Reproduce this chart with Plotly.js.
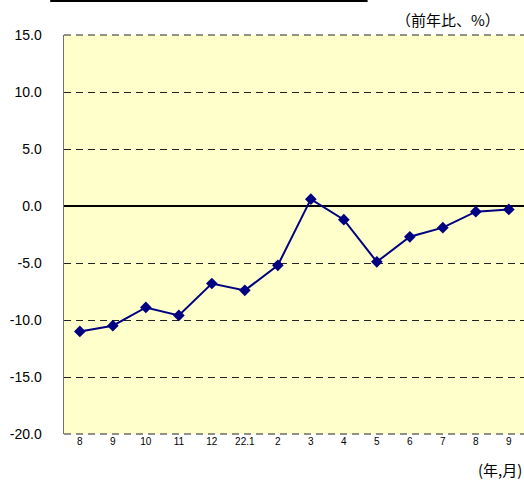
<!DOCTYPE html>
<html><head><meta charset="utf-8">
<script src="https://cdn.plot.ly/plotly-3.0.1.min.js"></script>
<style>html,body{margin:0;padding:0;background:#fff;}</style>
</head><body>
<div id="chart" style="width:524px;height:486px;"></div>
<script>
const categories = ["8","9","10","11","12","22.1","2","3","4","5","6","7","8 ","9 "];
const values = [-11.0, -10.5, -8.9, -9.6, -6.8, -7.4, -5.2, 0.6, -1.2, -4.9, -2.7, -1.9, -0.5, -0.3];
const yTicks = [15, 10, 5, 0, -5, -10, -15, -20];
const yTickText = ["15.0","10.0","5.0","0.0","-5.0","-10.0","-15.0","-20.0"];
const idx = categories.map((c,i)=>i);

const trace = {
  x: idx, y: values, type: 'scatter', mode: 'lines+markers',
  line: {color: '#000080', width: 2},
  marker: {symbol: 'diamond', size: 9, color: '#000080'},
  hoverinfo: 'skip'
};

const dashStyle = '7px,5px';
const layout = {
  width: 524, height: 486,
  margin: {l: 64, r: 0, t: 35, b: 52},
  paper_bgcolor: '#ffffff', plot_bgcolor: '#FFFFCC',
  showlegend: false,
  font: {family: 'Arial, Liberation Sans, sans-serif', color: '#000'},
  xaxis: {
    range: [-0.48, 13.46], tickvals: idx, ticktext: categories.map(s=>s.trim()),
    showgrid: false, zeroline: false, showline: false,
    tickfont: {size: 10}, ticks: '', fixedrange: true
  },
  yaxis: {
    range: [-20, 15], tickvals: yTicks, ticktext: yTickText,
    showgrid: true, gridcolor: '#222', griddash: dashStyle, gridwidth: 1,
    zeroline: true, zerolinecolor: '#000', zerolinewidth: 2,
    showline: true, linecolor: '#707070', linewidth: 1.5,
    tickfont: {size: 14}, ticks: '', ticklabelstandoff: 18, fixedrange: true
  },
  shapes: [
    {type: 'line', xref: 'paper', yref: 'paper', x0: 0, x1: 1, y0: 0, y1: 0,
     line: {color: '#222', width: 1, dash: dashStyle}},
    {type: 'line', xref: 'paper', yref: 'paper', x0: 0, x1: 1, y0: 1, y1: 1,
     line: {color: '#222', width: 1, dash: dashStyle}},
    {type: 'line', xref: 'paper', yref: 'paper', x0: -0.03, x1: 0.66, y0: 1.085, y1: 1.085,
     line: {color: '#000', width: 2}}
  ],
  annotations: [
    {xref: 'paper', yref: 'paper', x: 0.835, y: 1.008, xanchor: 'center', yanchor: 'bottom',
     text: '（前年比、%）', showarrow: false, font: {size: 15, family: 'Noto Sans CJK JP, sans-serif'}},
    {xref: 'paper', yref: 'paper', x: 1, y: -0.058, xanchor: 'right', yanchor: 'top',
     text: '(年,月)', showarrow: false, font: {size: 15, family: 'Noto Sans CJK JP, sans-serif'}}
  ]
};
Plotly.newPlot('chart', [trace], layout, {displayModeBar: false, staticPlot: true});
</script>
</body></html>
